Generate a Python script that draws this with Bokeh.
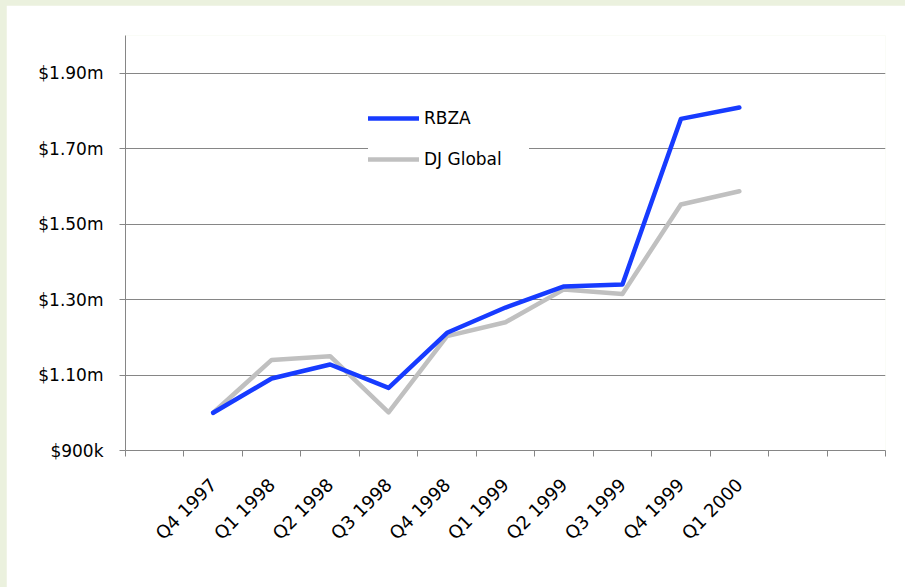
import math
from bokeh.plotting import figure
from bokeh.models import (Range1d, FixedTicker, CustomJSTickFormatter,
                          Legend, LegendItem)
from bokeh.embed import file_html
from bokeh.resources import INLINE

# ---- data (values in $ millions) ----
quarters = ["Q4 1997", "Q1 1998", "Q2 1998", "Q3 1998", "Q4 1998",
            "Q1 1999", "Q2 1999", "Q3 1999", "Q4 1999", "Q1 2000"]
rbza = [1.000, 1.091, 1.128, 1.066, 1.212, 1.279, 1.335, 1.340, 1.779, 1.809]
dj_global = [1.000, 1.140, 1.150, 1.001, 1.203, 1.240, 1.327, 1.315, 1.552, 1.587]
y_ticks = [0.9, 1.1, 1.3, 1.5, 1.7, 1.9]
leading_empty = 1      # empty category slots before the first quarter
trailing_empty = 2     # empty category slots after the last quarter

n_slots = leading_empty + len(quarters) + trailing_empty
xs = [leading_empty + i + 0.5 for i in range(len(quarters))]
boundaries = list(range(n_slots + 1))

FONT = "DejaVu Sans"
AXIS = "#868686"

p = figure(width=899, height=582, output_backend="svg", toolbar_location=None,
           x_range=Range1d(0, n_slots), y_range=Range1d(0.9, 2.0),
           min_border_left=119, min_border_right=20,
           min_border_top=30, min_border_bottom=137)
p.outline_line_color = None
p.background_fill_color = "white"
p.border_fill_color = "white"

p.xgrid.visible = False
p.ygrid.ticker = FixedTicker(ticks=y_ticks)
p.ygrid.grid_line_color = AXIS
p.ygrid.grid_line_width = 1

# y axis
ya = p.yaxis[0]
ya.ticker = FixedTicker(ticks=y_ticks)
ya.formatter = CustomJSTickFormatter(code="""
    if (tick < 1) { return "$" + Math.round(tick * 1000) + "k"; }
    return "$" + tick.toFixed(2) + "m";
""")
ya.axis_line_color = AXIS
ya.major_tick_line_color = AXIS
ya.major_tick_out = 6
ya.major_tick_in = 0
ya.minor_tick_line_color = None
ya.major_label_standoff = 16
ya.major_label_text_font = FONT
ya.major_label_text_font_size = "17px"
ya.major_label_text_color = "black"

# x axis: labels at category centers, tick marks between categories
xa = p.xaxis[0]
xa.ticker = FixedTicker(ticks=xs, minor_ticks=boundaries)
xa.formatter = CustomJSTickFormatter(args=dict(labels=quarters, first=leading_empty), code="""
    const i = Math.round(tick - first - 0.5);
    return (i >= 0 && i < labels.length) ? labels[i] : "";
""")
xa.axis_line_color = AXIS
xa.major_tick_line_color = None
xa.minor_tick_line_color = AXIS
xa.minor_tick_out = 6
xa.minor_tick_in = 0
xa.major_label_orientation = math.pi / 4
xa.major_label_standoff = 25
xa.major_label_text_font = FONT
xa.major_label_text_font_size = "18px"
xa.major_label_text_color = "black"

r_dj = p.line(xs, dj_global, line_color="#C0C0C0", line_width=4.5,
              line_join="round", line_cap="round")
r_rb = p.line(xs, rbza, line_color="#173BFF", line_width=4.5,
              line_join="round", line_cap="round")

legend = Legend(items=[LegendItem(label="RBZA", renderers=[r_rb]),
                       LegendItem(label="DJ Global", renderers=[r_dj])],
                location=(243, 281), border_line_color=None,
                background_fill_color="white", background_fill_alpha=1.0,
                glyph_width=51, glyph_height=20, label_height=20,
                label_width=105, spacing=21, padding=10, label_standoff=5,
                margin=0,
                label_text_font=FONT, label_text_font_size="17px",
                label_text_color="black")
p.add_layout(legend)

html = file_html(p, INLINE).replace(
    "</head>",
    "<style>html, body{background-color:#EBF1DE;} body{padding:5px 0 0 6px !important;}</style></head>",
    1)
open("out.html", "w").write(html)
